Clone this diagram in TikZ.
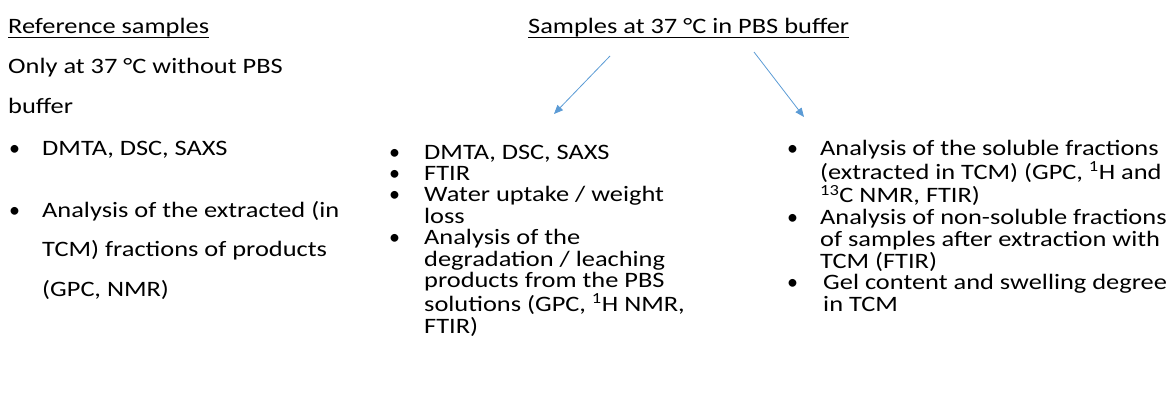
\documentclass[tikz,border=0pt]{standalone}
\usepackage{fontspec}
\setmainfont{Carlito}[FakeStretch=1.2]
\newfontfamily\dotfont{Carlito}
\usetikzlibrary{arrows.meta}

\definecolor{arrowblue}{HTML}{5B9BD5}

\newcommand{\wide}{\fontsize{22}{39.5}\selectfont}
\newcommand{\tight}{\fontsize{22}{20.9}\selectfont}
\newcommand{\tighter}{\fontsize{22}{20.6}\selectfont}
\newcommand{\bul}{\hspace{1pt}{\dotfont\textbullet}}

\tikzset{
  heading/.style={anchor=base west, inner sep=0, font=\tight},
  list/.style={anchor=north west, inner sep=0},
  arr/.style={arrowblue, line width=0.8pt, -{Triangle[length=9pt,width=7.5pt]}}
}

\begin{document}
\begin{tikzpicture}[x=1pt, y=-1pt]
    \useasboundingbox (0,0) rectangle (1171,415);

    \node[heading] (refhead) at (8,33) {Reference samples};
    \node[heading] (pbshead) at (528,33) {Samples at 37 °C in PBS buffer};
    \draw[line width=1.7pt] ([yshift=-4.5pt]refhead.base west) -- ([yshift=-4.5pt]refhead.base east);
    \draw[line width=1.7pt] ([yshift=-4.5pt]pbshead.base west) -- ([yshift=-4.5pt]pbshead.base east);

    \node[list] (reflist) at (8,45.9) {\wide
      \begin{tabular}{@{}p{34pt}@{}l@{}}
        \multicolumn{2}{@{}l@{}}{Only at 37 °C without PBS}\\
        \multicolumn{2}{@{}l@{}}{buffer}\\[2.5pt]
        \bul & DMTA, DSC, SAXS\\[22.5pt]
        \bul & Analysis of the extracted (in\\
             & TCM) fractions of products\\
             & (GPC, NMR)
      \end{tabular}};

    \node[list] (midlist) at (388,145) {\tighter
      \begin{tabular}{@{}p{36pt}@{}l@{}}
        \bul & DMTA, DSC, SAXS\\
        \bul & FTIR\\
        \bul & Water uptake / weight\\
             & loss\\
        \bul & Analysis of the\\
             & degradation / leaching\\
             & products from the PBS\\
             & solutions (GPC, \textsuperscript{1}H NMR,\\
             & FTIR)
      \end{tabular}};

    \node[list] (sollist) at (786,140) {\tight
      \begin{tabular}{@{}p{34pt}@{}l@{}}
        \bul & Analysis of the soluble fractions\\
             & (extracted in TCM) (GPC, \textsuperscript{1}H and\\
             & \textsuperscript{13}C NMR, FTIR)\\
        \bul & Analysis of non-soluble fractions\\
             & of samples after extraction with\\
             & TCM (FTIR)\\
        \bul & \hspace{3pt}Gel content and swelling degree\\
             & \hspace{3pt}in TCM
      \end{tabular}};

    \coordinate (la) at (610,56);
    \coordinate (lb) at (554,114);
    \coordinate (ra) at (754,52);
    \coordinate (rb) at (804,117);
    \draw[arr] (la) -- (lb);
    \draw[arr] (ra) -- (rb);
  \end{tikzpicture}
\end{document}
